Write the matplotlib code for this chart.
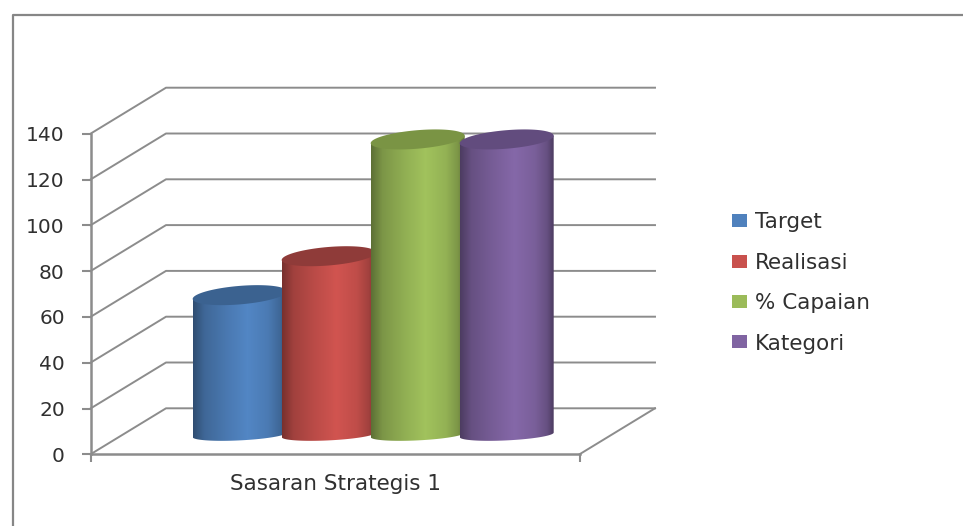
import numpy as np
import matplotlib
matplotlib.use('Agg')
import matplotlib.pyplot as plt
from matplotlib.colors import to_rgb
from matplotlib.lines import Line2D
from matplotlib.patches import Patch, Polygon

categories = ['Sasaran Strategis 1']
series_names = ['Target', 'Realisasi', '% Capaian', 'Kategori']
series_values = [61, 78, 129, 129]
y_ticks = [0, 20, 40, 60, 80, 100, 120, 140]

side_colors = ['#4F81BD', '#C9514D', '#9BBB59', '#8064A2']
top_colors = ['#3B6290', '#8F3B39', '#7A9444', '#624C7E']
line_color = '#8C8C8C'
text_color = '#303030'

W, H = 963, 526
plt.rcParams['font.family'] = ['DejaVu Sans']

# one x unit is the spacing of the cylinders, one y unit is one percent point
px_x = 89.0
px_y = 2.29
depth_x = 75.5 / px_x
depth_y = 46.0 / px_y
base_y = 8.5
half = 0.528
b = 0.2
a = np.sqrt(half ** 2 - b ** 2)
top_h = 10.0 / px_y
bottom_h = 6.0 / px_y

fig = plt.figure(figsize=(W / 100, H / 100), dpi=100)
ax = fig.add_axes([90.5 / W, (H - 454.3) / H, 489 / W, 320.6 / H])
xlim = (-1.676, 3.818)
ylim = (0, 140)


def shade(color):
    pos = [0.0, 0.12, 0.35, 0.58, 0.8, 0.93, 1.0]
    fac = [0.6, 0.8, 0.93, 1.04, 0.95, 0.8, 0.6]
    f = np.interp(np.linspace(0, 1, 120), pos, fac)
    rgb = np.outer(f, to_rgb(color)).clip(0, 1)
    return rgb[np.newaxis, :, :]


def ring(cx, cy, h, t):
    return np.column_stack([cx + a * np.cos(t) + b * np.sin(t), cy + h * np.sin(t)])


t0 = np.arctan2(b, a)
for i, value in enumerate(series_values):
    top = value + base_y
    low = ring(i, base_y, bottom_h, np.linspace(t0 + np.pi, t0 + 2 * np.pi, 80))
    up = ring(i, top, top_h, np.array([t0, t0 + np.pi]))
    body = Polygon(np.vstack([low, up]), closed=True, transform=ax.transData,
                   fc='none', ec='none')
    im = ax.imshow(shade(side_colors[i]), extent=(i - half, i + half, 0, top + 10),
                   aspect='auto', interpolation='bilinear', zorder=3 + i)
    ax.add_patch(body)
    im.set_clip_path(body)
    cap = ring(i, top, top_h, np.linspace(0, 2 * np.pi, 120))
    ax.add_patch(Polygon(cap, closed=True, fc=top_colors[i], ec='none', zorder=3 + i,
                         clip_on=False))

# back wall and floor lines
for v in y_ticks:
    ax.plot([xlim[0], xlim[0] + depth_x, xlim[1] + depth_x],
            [v, v + depth_y, v + depth_y],
            color=line_color, lw=1.4, clip_on=False, zorder=1)
ax.plot([xlim[1], xlim[1] + depth_x], [0, depth_y], color=line_color, lw=1.4,
        clip_on=False, zorder=1)

ax.set_xlim(xlim)
ax.set_ylim(ylim)
ax.patch.set_alpha(0)
ax.spines['top'].set_visible(False)
ax.spines['right'].set_visible(False)
ax.spines['left'].set_color(line_color)
ax.spines['bottom'].set_color(line_color)
ax.spines['left'].set_linewidth(1.8)
ax.spines['bottom'].set_linewidth(1.8)

ax.set_yticks(y_ticks)
ax.tick_params(axis='y', length=6.5, width=1.5, color=line_color, labelsize=14.5,
               labelcolor=text_color, pad=12)
ax.set_xticks([sum(xlim) / 2])
ax.set_xticklabels(categories)
ax.tick_params(axis='x', which='major', length=0, labelsize=15.5, labelcolor=text_color, pad=14)
ax.set_xticks(list(xlim), minor=True)
ax.tick_params(axis='x', which='minor', length=6, width=1.5, color=line_color)

handles = [Patch(fc=c, ec='none') for c in side_colors]
fig.legend(handles, series_names, loc='upper left', bbox_to_anchor=(715 / W, 1 - 195 / H),
           frameon=False, fontsize=15.5, labelcolor=text_color, handlelength=0.7,
           handleheight=0.55, handletextpad=0.35, labelspacing=0.95, borderpad=0.3)

# frame of the pasted chart, only top and left are in the picture
fig.add_artist(Line2D([12.5 / W, 12.5 / W, 1], [0, 1 - 14.5 / H, 1 - 14.5 / H],
                      color='#868686', lw=1.6))

fig.savefig('out.png', dpi=100)
